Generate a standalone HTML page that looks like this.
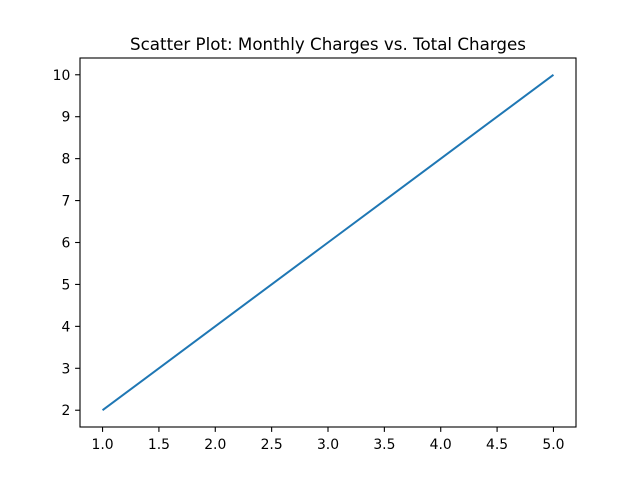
<!DOCTYPE html>
<html><head><meta charset="utf-8"><style>
body{margin:0;background:#fff;}
svg{display:block;font-family:"DejaVu Sans","Liberation Sans",sans-serif;}
</style></head><body>
<svg id="chart" width="640" height="480">
<rect x="0" y="0" width="640" height="480" fill="#fff"/>
<text x="328" y="50" text-anchor="middle" font-size="16.7">Scatter Plot: Monthly Charges vs. Total Charges</text>
<g id="axes"></g>
</svg>
<script>
const xValues = [1, 2, 3, 4, 5];
const yValues = [2, 4, 6, 8, 10];
const xTicks = [1.0, 1.5, 2.0, 2.5, 3.0, 3.5, 4.0, 4.5, 5.0];
const yTicks = [2, 3, 4, 5, 6, 7, 8, 9, 10];

const L = 80, R = 576, T = 58, B = 427;
const ns = 'http://www.w3.org/2000/svg';
const g = document.getElementById('axes');
const xmin = Math.min(...xValues), xmax = Math.max(...xValues);
const ymin = Math.min(...yValues), ymax = Math.max(...yValues);
const xpad = (xmax - xmin) * 0.05, ypad = (ymax - ymin) * 0.05;
const sx = v => L + (v - (xmin - xpad)) / ((xmax + xpad) - (xmin - xpad)) * (R - L);
const sy = v => B - (v - (ymin - ypad)) / ((ymax + ypad) - (ymin - ypad)) * (B - T);
function mk(tag, attrs) { const e = document.createElementNS(ns, tag); for (const k in attrs) e.setAttribute(k, attrs[k]); g.appendChild(e); return e; }

const line = mk('polyline', {points: xValues.map((x, i) => sx(x) + ',' + sy(yValues[i])).join(' '), fill: 'none', stroke: '#1f77b4', 'stroke-width': 2});



xTicks.forEach(t => {
  const x = sx(t);
  const tk = mk('line', {x1: x, x2: x, y1: B, y2: B + 4.9, stroke: '#000', 'stroke-width': 1.1});
  
  
  const lb = mk('text', {x: x, y: B + 22, 'text-anchor': 'middle', 'font-size': 13.9});
  lb.textContent = t.toFixed(1);
  
  
});
yTicks.forEach(t => {
  const y = sy(t);
  const tk = mk('line', {x1: L - 4.9, x2: L, y1: y, y2: y, stroke: '#000', 'stroke-width': 1.1});
  
  
  const lb = mk('text', {x: L - 9.7, y: y + 5, 'text-anchor': 'end', 'font-size': 13.9});
  lb.textContent = String(t);
  
  
});
const frame = mk('rect', {x: L, y: T, width: R - L, height: B - T, fill: 'none', stroke: '#000', 'stroke-width': 1.1});


</script>
</body></html>
